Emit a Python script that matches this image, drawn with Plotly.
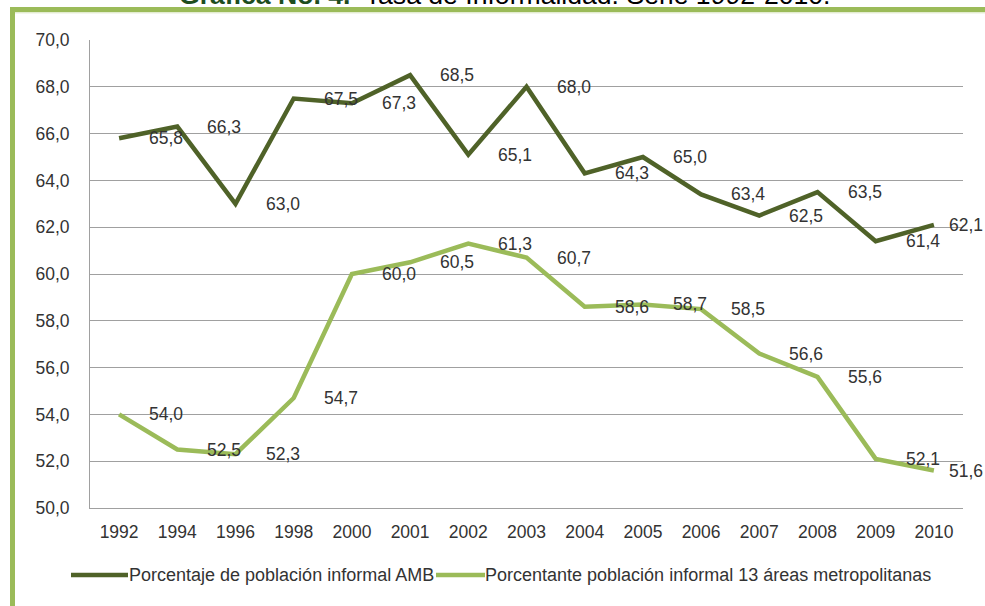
import plotly.graph_objects as go

years = ["1992", "1994", "1996", "1998", "2000", "2001", "2002", "2003",
         "2004", "2005", "2006", "2007", "2008", "2009", "2010"]
amb = [65.8, 66.3, 63.0, 67.5, 67.3, 68.5, 65.1, 68.0, 64.3, 65.0, 63.4, 62.5, 63.5, 61.4, 62.1]
areas13 = [54.0, 52.5, 52.3, 54.7, 60.0, 60.5, 61.3, 60.7, 58.6, 58.7, 58.5, 56.6, 55.6, 52.1, 51.6]
series_names = ["Porcentaje de población informal AMB",
                "Porcentante población informal 13 áreas metropolitanas"]
y_ticks = [50, 52, 54, 56, 58, 60, 62, 64, 66, 68, 70]
title_bold = "Gráfica No. 4."
title_rest = "Tasa de Informalidad. Serie 1992-2010."

W, H = 985, 606
L, R, T, B = 90, 22, 40, 98
PW, PH = W - L - R, H - T - B


def px(xp):
    return (xp - L) / PW


def py(yp):
    return (H - B - yp) / PH


DARK = "#4F6228"
LIGHT = "#9BBB59"
FONT = "Liberation Sans, Arial, sans-serif"
TXT = "#333333"
FS = 17.5

xi = list(range(len(years)))

fig = go.Figure()
for vals, name, col in [(amb, series_names[0], DARK), (areas13, series_names[1], LIGHT)]:
    fig.add_trace(go.Scatter(x=xi, y=vals, mode="lines", name=name,
                             line=dict(color=col, width=4.5), showlegend=False,
                             hoverinfo="skip"))

annotations = []
for vals in (amb, areas13):
    for i, v in zip(xi, vals):
        annotations.append(dict(
            x=i, y=v, xref="x", yref="y", showarrow=False,
            text=f"{v:.1f}".replace(".", ","),
            xshift=47 if i < len(years) - 1 else 32, yshift=0,
            font=dict(family=FONT, size=FS, color=TXT)))

# title (partly cut off at the top)
annotations.append(dict(
    x=px(504), y=py(12.5), xref="paper", yref="paper", xanchor="center", yanchor="bottom",
    showarrow=False,
    text=f"<b><span style='color:#1E4D1E'>{title_bold}</span></b>  {title_rest}",
    font=dict(family=FONT, size=26.6, color="#000000")))

# manual legend
leg_y = 575
annotations.append(dict(x=px(127), y=py(leg_y), xref="paper", yref="paper", xanchor="left",
                        yanchor="middle", showarrow=False, text=series_names[0],
                        font=dict(family=FONT, size=18, color=TXT)))
annotations.append(dict(x=px(483), y=py(leg_y), xref="paper", yref="paper", xanchor="left",
                        yanchor="middle", showarrow=False, text=series_names[1],
                        font=dict(family=FONT, size=18, color=TXT)))

shapes = [
    dict(type="line", xref="paper", yref="paper", x0=px(71), x1=px(128), y0=py(leg_y), y1=py(leg_y),
         line=dict(color=DARK, width=4.5)),
    dict(type="line", xref="paper", yref="paper", x0=px(436), x1=px(485), y0=py(leg_y), y1=py(leg_y),
         line=dict(color=LIGHT, width=4.5)),
    # green frame
    dict(type="line", xref="paper", yref="paper", x0=px(10), x1=px(990), y0=py(9.5), y1=py(9.5),
         line=dict(color="#9BBB59", width=5)),
    dict(type="line", xref="paper", yref="paper", x0=px(12.5), x1=px(12.5), y0=py(7), y1=py(615),
         line=dict(color="#9BBB59", width=5)),
    dict(type="line", xref="paper", yref="paper", x0=px(15), x1=px(990), y0=py(12.8), y1=py(12.8),
         line=dict(color="#D7E4BD", width=1)),
]

fig.update_layout(
    width=W, height=H,
    margin=dict(l=L, r=R, t=T, b=B),
    paper_bgcolor="white", plot_bgcolor="white",
    separators=",.",
    showlegend=False,
    annotations=annotations,
    shapes=shapes,
    xaxis=dict(range=[-0.5, len(years) - 0.5], tickvals=xi, ticktext=years,
               showgrid=False, showline=True, linecolor="#a0a0a0", linewidth=1, zeroline=False,
               ticks="", tickfont=dict(family=FONT, size=FS, color=TXT), ticklabelstandoff=8,
               fixedrange=True),
    yaxis=dict(range=[50, 70], tickvals=y_ticks, tickformat=".1f", showgrid=True,
               gridcolor="#a0a0a0", gridwidth=1, showline=True, linecolor="#a0a0a0", linewidth=1,
               zeroline=False, ticks="", tickfont=dict(family=FONT, size=FS, color=TXT),
               ticklabelstandoff=16, fixedrange=True),
)

fig.write_html("out.html", config={"displayModeBar": False},
               post_script="document.body.style.margin='0';document.body.style.overflow='hidden';")
